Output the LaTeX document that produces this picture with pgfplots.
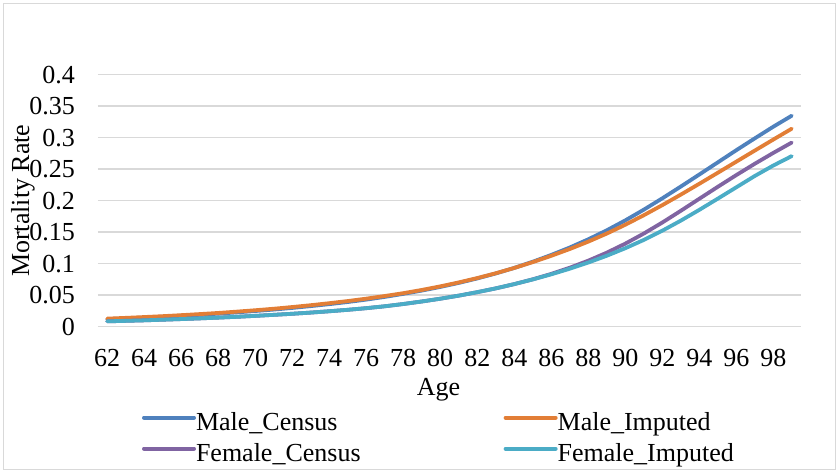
\documentclass[border=0pt]{standalone}
\usepackage{fontspec}
\setmainfont{Liberation Serif}
\usepackage{pgfplots}
\usepackage{pgfplotstable}
\pgfplotsset{compat=1.18}
\definecolor{cBlue}{HTML}{4F81BD}
\definecolor{cOrange}{HTML}{E27E36}
\definecolor{cPurple}{HTML}{8064A2}
\definecolor{cTeal}{HTML}{4BACC6}
\definecolor{cGrid}{HTML}{D9D9D9}
\pgfplotstableread{
age MC MI FC FI
62 0.0120 0.0128 0.0085 0.0085
63 0.0131 0.0140 0.0093 0.0093
64 0.0144 0.0153 0.0101 0.0101
65 0.0158 0.0167 0.0111 0.0111
66 0.0173 0.0183 0.0121 0.0121
67 0.0189 0.0200 0.0132 0.0132
68 0.0207 0.0218 0.0144 0.0144
69 0.0227 0.0239 0.0157 0.0157
70 0.0249 0.0261 0.0172 0.0172
71 0.0272 0.0285 0.0188 0.0188
72 0.0298 0.0312 0.0205 0.0205
73 0.0327 0.0341 0.0224 0.0224
74 0.0358 0.0373 0.0245 0.0245
75 0.0392 0.0407 0.0268 0.0268
76 0.0430 0.0445 0.0294 0.0294
77 0.0473 0.0487 0.0324 0.0324
78 0.0521 0.0532 0.0360 0.0360
79 0.0573 0.0583 0.0400 0.0400
80 0.0631 0.0640 0.0444 0.0444
81 0.0695 0.0703 0.0493 0.0493
82 0.0766 0.0772 0.0548 0.0548
83 0.0845 0.0848 0.0608 0.0608
84 0.0933 0.0932 0.0676 0.0676
85 0.1031 0.1025 0.0752 0.0750
86 0.1139 0.1125 0.0838 0.0831
87 0.1257 0.1233 0.0936 0.0920
88 0.1387 0.1350 0.1048 0.1018
89 0.1530 0.1478 0.1175 0.1126
90 0.1687 0.1618 0.1318 0.1245
91 0.1857 0.1769 0.1478 0.1377
92 0.2037 0.1929 0.1653 0.1523
93 0.2224 0.2096 0.1839 0.1683
94 0.2415 0.2268 0.2030 0.1854
95 0.2608 0.2443 0.2220 0.2032
96 0.2801 0.2619 0.2406 0.2212
97 0.2989 0.2795 0.2586 0.2392
98 0.3174 0.2970 0.2758 0.2558
99 0.3349 0.3143 0.2923 0.2708
}\mortality
\begin{document}
\fontsize{26pt}{31pt}\selectfont
\begin{tikzpicture}[x=1pt,y=1pt]
\useasboundingbox (0,0) rectangle (839,473);
\draw[cGrid, line width=1pt] (3.5,3.5) rectangle (835.5,469.5);
\begin{axis}[
  at={(98pt,146.3pt)}, anchor=south west,
  scale only axis, width=703pt, height=252pt,
  xmin=61.5, xmax=99.5, ymin=0, ymax=0.4,
  xtick={62,64,...,98},
  xticklabels={62,64,66,68,70,72,74,76,78,80,82,84,86,88,90,92,94,96,98},
  ytick={0,0.05,0.1,0.15,0.2,0.25,0.3,0.35,0.4},
  yticklabels={0,0.05,0.1,0.15,0.2,0.25,0.3,0.35,0.4},
  axis line style={draw=none},
  major tick length=0pt,
  tick style={draw=none},
  ymajorgrids,
  grid style={cGrid, line width=1.6pt},
  yticklabel style={anchor=east, inner sep=0pt, xshift=-23pt, font=\fontsize{26pt}{31pt}\selectfont},
  xticklabel style={anchor=north, inner sep=0pt, yshift=-22pt, font=\fontsize{26pt}{31pt}\selectfont},
  xlabel={Age},
  xlabel style={at={(axis description cs:0.5,0)}, anchor=north, inner sep=0pt, yshift=-51pt, xshift=-11pt, font=\fontsize{26pt}{31pt}\selectfont},
  ylabel={Mortality Rate},
  ylabel style={at={(axis description cs:-0.1067,0.5)}, anchor=center, inner sep=0pt, font=\fontsize{26pt}{31pt}\selectfont},
  legend columns=2,
  legend cell align=left,
  legend image code/.code={\draw[#1, line width=4pt, line cap=round] (0pt,0.27em) -- (50pt,0.27em);},
  legend style={draw=none, fill=none, inner sep=0pt, outer sep=0pt,
    at={(axis description cs:0,0)}, anchor=north west, xshift=44pt, yshift=-86pt,
    font=\fontsize{26pt}{31pt}\selectfont, row sep=7pt,
    nodes={inner sep=0pt, text height=18pt, text depth=6pt},
    /tikz/every odd column/.append style={column sep=0pt},
    /tikz/every even column/.append style={column sep=143pt}},
  every axis plot/.append style={line width=3.8pt, line cap=round, line join=round, mark=none},
  clip=false,
]
\addplot[cBlue] table[x=age, y=MC] {\mortality};
\addlegendentry{Male\_Census}
\addplot[cOrange] table[x=age, y=MI] {\mortality};
\addlegendentry{Male\_Imputed}
\addplot[cPurple] table[x=age, y=FC] {\mortality};
\addlegendentry{Female\_Census}
\addplot[cTeal] table[x=age, y=FI] {\mortality};
\addlegendentry{Female\_Imputed}
\end{axis}
\end{tikzpicture}
\end{document}
